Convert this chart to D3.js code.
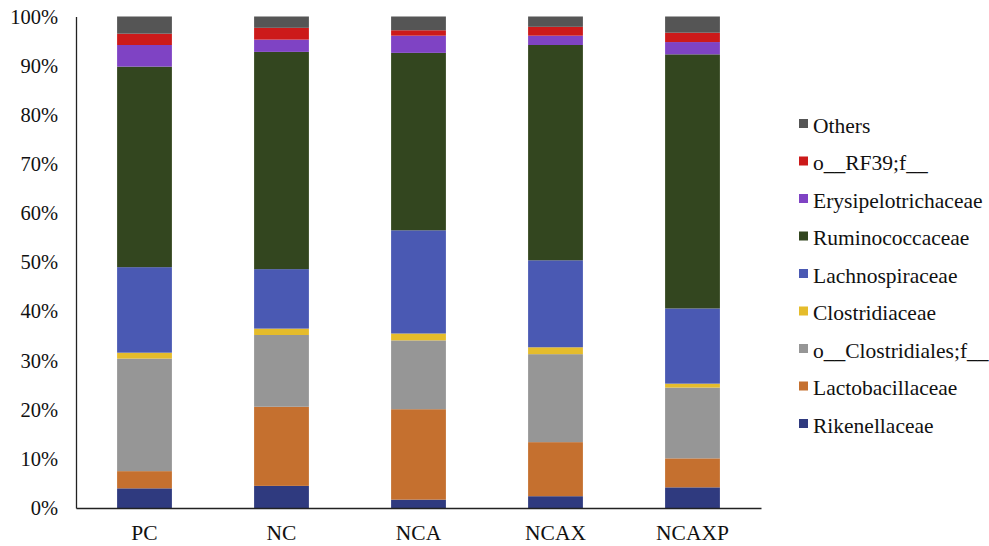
<!DOCTYPE html>
<html>
<head>
<meta charset="utf-8">
<script src="https://cdn.jsdelivr.net/npm/d3@7"></script>
<style>
  html, body { margin: 0; padding: 0; background: #ffffff; }
  svg { display: block; }
  text { font-family: "Liberation Serif", "Times New Roman", serif; fill: #111111; }
</style>
</head>
<body>
<svg id="chart" width="989" height="546"></svg>
<script>
// Groups (x categories)
const groups = ["PC", "NC", "NCA", "NCAX", "NCAXP"];

// Taxa, bottom to top of the stack
const taxa = [
  "Rikenellaceae",
  "Lactobacillaceae",
  "o__Clostridiales;f__",
  "Clostridiaceae",
  "Lachnospiraceae",
  "Ruminococcaceae",
  "Erysipelotrichaceae",
  "o__RF39;f__",
  "Others"
];

// Relative abundance (%) per taxon, in group order PC, NC, NCA, NCAX, NCAXP
const rikenellaceae       = [4.0, 4.5, 1.7, 2.4, 4.2];
const lactobacillaceae    = [3.5, 16.1, 18.4, 11.0, 5.9];
const oClostridiales      = [22.9, 14.6, 14.0, 17.9, 14.4];
const clostridiaceae      = [1.2, 1.3, 1.4, 1.4, 0.8];
const lachnospiraceae     = [17.4, 12.1, 21.0, 17.7, 15.3];
const ruminococcaceae     = [40.8, 44.2, 36.1, 43.8, 51.7];
const erysipelotrichaceae = [4.4, 2.5, 3.5, 1.9, 2.5];
const oRF39               = [2.3, 2.4, 1.1, 1.8, 1.9];
const others              = [3.5, 2.3, 2.8, 2.1, 3.3];

const colors = ["#2f3a7f", "#c5702f", "#969696", "#e5bc2b", "#4a59b3",
                "#33461f", "#7f43c4", "#cc1a1a", "#555555"];

const yTicks = [0, 10, 20, 30, 40, 50, 60, 70, 80, 90, 100];

// Build table
const seriesValues = [rikenellaceae, lactobacillaceae, oClostridiales, clostridiaceae,
  lachnospiraceae, ruminococcaceae, erysipelotrichaceae, oRF39, others];
const table = groups.map((g, i) => {
  const row = { group: g };
  let total = 0;
  taxa.forEach((t, k) => { total += seriesValues[k][i]; });
  taxa.forEach((t, k) => { row[t] = seriesValues[k][i] / total * 100; });
  return row;
});

const svg = d3.select("#chart");
const mLeft = 76, mRight = 761, mTop = 16.5, mBottom = 508;

const x = d3.scaleBand().domain(groups).range([mLeft, mRight])
  .paddingInner(0.6).paddingOuter(0.3);
const y = d3.scaleLinear().domain([0, 100]).range([mBottom, mTop]);
const color = d3.scaleOrdinal().domain(taxa).range(colors);

const stacked = d3.stack().keys(taxa)(table);

svg.append("g").selectAll("g")
  .data(stacked).join("g")
  .attr("fill", d => color(d.key))
  .selectAll("rect")
  .data(d => d).join("rect")
  .attr("x", d => x(d.data.group))
  .attr("width", x.bandwidth())
  .attr("y", d => y(d[1]))
  .attr("height", d => y(d[0]) - y(d[1]));

// Y axis
const yAxis = d3.axisLeft(y).tickValues(yTicks).tickFormat(d => d + "%").tickSize(0).tickPadding(18);
const gy = svg.append("g").attr("transform", `translate(${mLeft},0)`).call(yAxis);
gy.select(".domain").attr("stroke", "#222").attr("stroke-width", 1.3);
gy.selectAll("text").style("font-size", "20.5px").style("font-family", "'Liberation Serif', serif").attr("fill", "#111");

// X axis
const xAxis = d3.axisBottom(x).tickSize(0).tickPadding(17);
const gx = svg.append("g").attr("transform", `translate(0,${mBottom})`).call(xAxis);
gx.select(".domain").attr("stroke", "#222").attr("stroke-width", 1.3);
gx.selectAll("text").style("font-size", "21.5px").style("font-family", "'Liberation Serif', serif").attr("fill", "#111");

// Legend (top to bottom: Others ... Rikenellaceae)
const legendItems = taxa.slice().reverse();
const legend = svg.append("g").attr("transform", "translate(799,125)");
const li = legend.selectAll("g").data(legendItems).join("g")
  .attr("transform", (d, i) => `translate(0,${i * 37.5})`);
li.append("rect").attr("x", 0).attr("y", -6).attr("width", 9).attr("height", 9)
  .attr("fill", d => color(d));
li.append("text").attr("x", 14).attr("y", 0).attr("dy", "0.35em")
  .style("font-size", "21.5px").text(d => d);
</script>
</body>
</html>
